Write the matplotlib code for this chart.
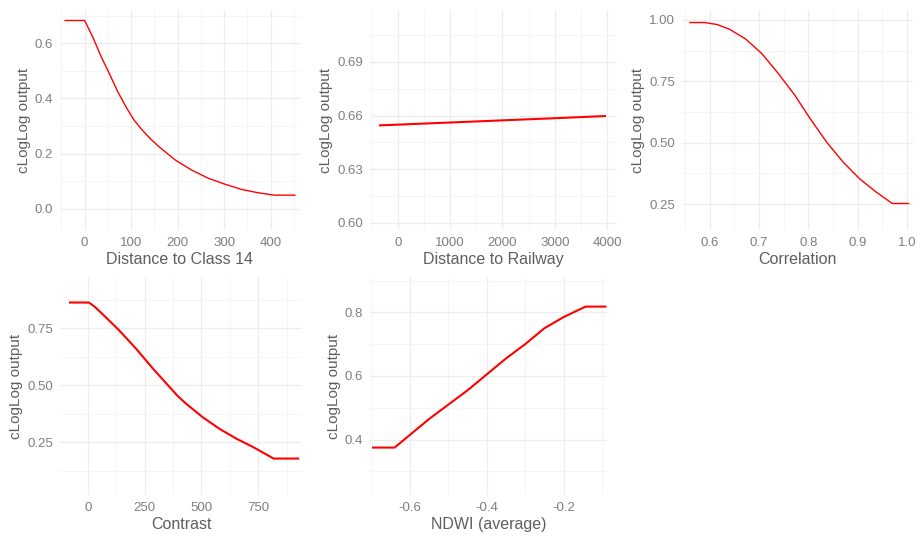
import numpy as np
import matplotlib.pyplot as plt
from matplotlib.ticker import AutoMinorLocator, FixedLocator, FormatStrFormatter

plt.rcParams['font.family'] = ['Liberation Sans', 'DejaVu Sans']
plt.rcParams['axes.unicode_minus'] = False

# ===================== Datos =====================
class14_x = [-42, 0, 18, 35, 53, 71, 89, 106, 124, 142, 160, 195, 230, 266, 301, 337, 372, 408, 452]
class14_y = [0.682, 0.682, 0.62, 0.553, 0.49, 0.425, 0.369, 0.322, 0.285, 0.253, 0.225, 0.177, 0.141,
             0.111, 0.09, 0.071, 0.059, 0.05, 0.05]

railway_x = [-340, 1000, 2000, 3000, 3960]
railway_y = [0.6545, 0.6561, 0.6573, 0.6585, 0.6597]

corr_x = [0.560, 0.590, 0.615, 0.640, 0.673, 0.706, 0.739, 0.772, 0.805, 0.838, 0.871, 0.904, 0.937, 0.970, 1.003]
corr_y = [0.989, 0.989, 0.981, 0.962, 0.922, 0.862, 0.782, 0.695, 0.594, 0.50, 0.42, 0.353, 0.30, 0.253, 0.253]

contrast_x = [-78, 5, 30, 62, 136, 210, 284, 358, 395, 432, 506, 580, 654, 728, 817, 925]
contrast_y = [0.863, 0.863, 0.845, 0.815, 0.743, 0.663, 0.576, 0.494, 0.453, 0.419, 0.359, 0.308, 0.265,
              0.228, 0.178, 0.178]

ndwi_x = [-0.696, -0.64, -0.60, -0.55, -0.50, -0.45, -0.40, -0.35, -0.30, -0.25, -0.20, -0.143, -0.091]
ndwi_y = [0.375, 0.375, 0.415, 0.465, 0.51, 0.555, 0.605, 0.655, 0.70, 0.75, 0.785, 0.818, 0.818]

# ===================== Figura =====================
W, H = 917, 543
fig = plt.figure(figsize=(W / 100, H / 100), dpi=100)


def box(left, top, right, bottom):
    return [left / W, 1 - bottom / H, (right - left) / W, (bottom - top) / H]


def panel(rect, x, y, xlabel, xticks, yticks, xlim, ylim, lw, yfmt):
    ax = fig.add_axes(rect)
    ax.plot(x, y, color="red", lw=lw, solid_joinstyle="round")
    ax.set_xlim(*xlim)
    ax.set_ylim(*ylim)
    ax.xaxis.set_major_locator(FixedLocator(xticks))
    ax.yaxis.set_major_locator(FixedLocator(yticks))
    ax.xaxis.set_minor_locator(AutoMinorLocator(2))
    ax.yaxis.set_minor_locator(AutoMinorLocator(2))
    ax.yaxis.set_major_formatter(FormatStrFormatter(yfmt))
    ax.grid(which="major", color="#ededed", lw=0.9)
    ax.grid(which="minor", color="#f4f4f4", lw=0.6)
    ax.set_axisbelow(True)
    for s in ax.spines.values():
        s.set_visible(False)
    ax.tick_params(which="both", length=0, labelsize=9.5, labelcolor="#7f7f7f", pad=5)
    ax.set_xlabel(xlabel, fontsize=11.5, color="#5f5f5f", labelpad=2)
    ax.set_ylabel("cLogLog output", fontsize=11, color="#5f5f5f", labelpad=3)
    return ax


panel(box(60, 10, 300, 230), class14_x, class14_y, "Distance to Class 14",
      [0, 100, 200, 300, 400], [0.0, 0.2, 0.4, 0.6], (-53, 463), (-0.076, 0.72), 1.0, "%.1f")

panel(box(370, 10, 617, 230), railway_x, railway_y, "Distance to Railway",
      [0, 1000, 2000, 3000, 4000], [0.60, 0.63, 0.66, 0.69], (-530, 4190), (0.596, 0.719), 1.5, "%.2f")

panel(box(682, 10, 913, 230), corr_x, corr_y, "Correlation",
      [0.6, 0.7, 0.8, 0.9, 1.0], [0.25, 0.50, 0.75, 1.00], (0.544, 1.012), (0.145, 1.04), 1.0, "%.2f")

panel(box(60, 277, 302, 495), contrast_x, contrast_y, "Contrast",
      [0, 250, 500, 750], [0.25, 0.50, 0.75], (-122, 942), (0.018, 0.975), 1.5, "%.2f")

panel(box(370, 277, 607, 495), ndwi_x, ndwi_y, "NDWI (average)",
      [-0.6, -0.4, -0.2], [0.4, 0.6, 0.8], (-0.704, -0.087), (0.226, 0.911), 1.5, "%.1f")

fig.savefig("out.png", dpi=100, facecolor="white")
